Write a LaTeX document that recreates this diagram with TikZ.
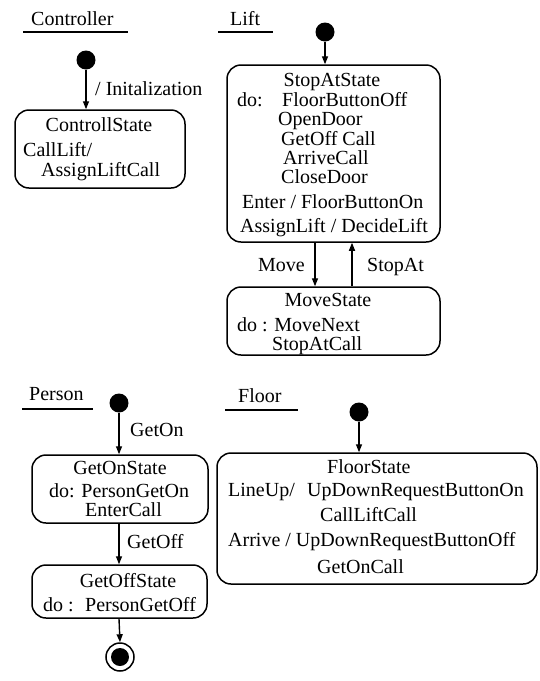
\documentclass[tikz,border=0pt]{standalone}
\usepackage{fontspec}
\setmainfont{Liberation Serif}
\usetikzlibrary{arrows.meta,calc}
\tikzset{
  statebox/.style={draw, line width=1.5pt, rounded corners=14pt, inner sep=0pt},
  initdot/.style={circle, fill=black, inner sep=0pt, minimum size=19pt},
  arr/.style={line width=1.4pt, -{Triangle[length=8pt,width=6pt]}},
  txt/.style={inner sep=0pt, anchor=base west},
  ctxt/.style={inner sep=0pt, anchor=base},
  uline/.style={line width=2.4pt},
}
\begin{document}
\begin{tikzpicture}[x=1pt, y=-1pt, font=\fontsize{20}{22}\selectfont]
\useasboundingbox (0,0) rectangle (539,681);

% ---------------- Controller ----------------
\node[txt] (tctrl) at (31,25) {Controller};
\coordinate (uc1) at (23,32); \coordinate (uc2) at (128,32);
\draw[uline] (uc1) -- (uc2);
\node[initdot] (ic) at (86,60) {};
\node[statebox, minimum width=170pt, minimum height=78pt] (cs) at (100,149) {};
\draw[arr] (ic) -- (ic |- cs.north);
\node[txt] (lInit) at (95,95) {/ Initalization};
\node[ctxt] (csname) at (99,131) {ControllState};
\node[txt] (cs1) at (23,156) {CallLift/};
\node[txt] (cs2) at (41,176) {AssignLiftCall};

% ---------------- Lift ----------------
\node[txt] (tlift) at (230,25) {Lift};
\coordinate (ul1) at (218,32); \coordinate (ul2) at (273,32);
\draw[uline] (ul1) -- (ul2);
\node[initdot] (il) at (325,32) {};
\node[statebox, minimum width=213pt, minimum height=177pt] (stop) at (333.5,153.5) {};
\draw[arr] (il) -- (il |- stop.north);
\node[ctxt] (stopname) at (332,86) {StopAtState};
\node[txt] (s0) at (237,106) {do:};
\node[txt] (s1) at (282,106) {FloorButtonOff};
\node[txt] (s2) at (278,125) {OpenDoor};
\node[txt] (s3) at (281,145) {GetOff Call};
\node[txt] (s4) at (283,164) {ArriveCall};
\node[txt] (s5) at (281,183) {CloseDoor};
\node[txt] (s6) at (242,208) {Enter / FloorButtonOn};
\node[txt] (s7) at (240,232) {AssignLift / DecideLift};

\node[statebox, minimum width=213pt, minimum height=68pt] (move) at (333.5,321) {};
\coordinate (mx) at (315,0);
\coordinate (sx) at (352,0);
\draw[arr] (stop.south -| mx) -- (move.north -| mx);
\draw[arr] (move.north -| sx) -- (stop.south -| sx);
\node[txt] (lMove) at (258,271) {Move};
\node[txt] (lStop) at (367,271) {StopAt};
\node[ctxt] (movename) at (328,306) {MoveState};
\node[txt] (m1) at (237,331) {do : MoveNext};
\node[txt] (m2) at (272,350) {StopAtCall};

% ---------------- Person ----------------
\node[txt] (tperson) at (29,400) {Person};
\coordinate (up1) at (22,409); \coordinate (up2) at (93,409);
\draw[uline] (up1) -- (up2);
\node[initdot] (ip) at (119,403) {};
\node[statebox, minimum width=176pt, minimum height=68pt] (geton) at (120,489) {};
\draw[arr] (ip) -- (ip |- geton.north);
\node[txt] (lGetOn) at (130,436) {GetOn};
\node[ctxt] (getonname) at (120,474) {GetOnState};
\node[txt] (g1) at (49,497) {do: PersonGetOn};
\node[txt] (g2) at (85,516) {EnterCall};

\node[statebox, minimum width=175pt, minimum height=53pt] (getoff) at (119.5,591.5) {};
\draw[arr] (geton.south -| ip) -- (getoff.north -| ip);
\node[txt] (lGetOff) at (127,548) {GetOff};
\node[ctxt] (getoffname) at (128,587) {GetOffState};
\node[txt] (f0) at (43,611) {do :};
\node[txt] (f1) at (85,611) {PersonGetOff};

\node[circle, draw, line width=1.5pt, inner sep=0pt, minimum size=28pt] (fin) at (120,657) {};
\node[circle, fill=black, inner sep=0pt, minimum size=18pt] (fininner) at (fin) {};
\draw[arr] (getoff.south -| ip) -- (fin.north);

% ---------------- Floor ----------------
\node[txt] (tfloor) at (238,402) {Floor};
\coordinate (uf1) at (225,410); \coordinate (uf2) at (298,410);
\draw[uline] (uf1) -- (uf2);
\node[initdot] (ifl) at (359,412) {};
\node[statebox, minimum width=320pt, minimum height=131pt] (floor) at (377,518.5) {};
\draw[arr] (ifl) -- (ifl |- floor.north);
\node[txt] (floorname) at (327,473) {FloorState};
\node[txt] (fl1) at (228,496) {LineUp/};
\node[txt] (fl2) at (307,496) {UpDownRequestButtonOn};
\node[txt] (fl3) at (320,521) {CallLiftCall};
\node[txt] (fl4) at (228,546) {Arrive / UpDownRequestButtonOff};
\node[txt] (fl5) at (317,573) {GetOnCall};
\end{tikzpicture}
\end{document}
